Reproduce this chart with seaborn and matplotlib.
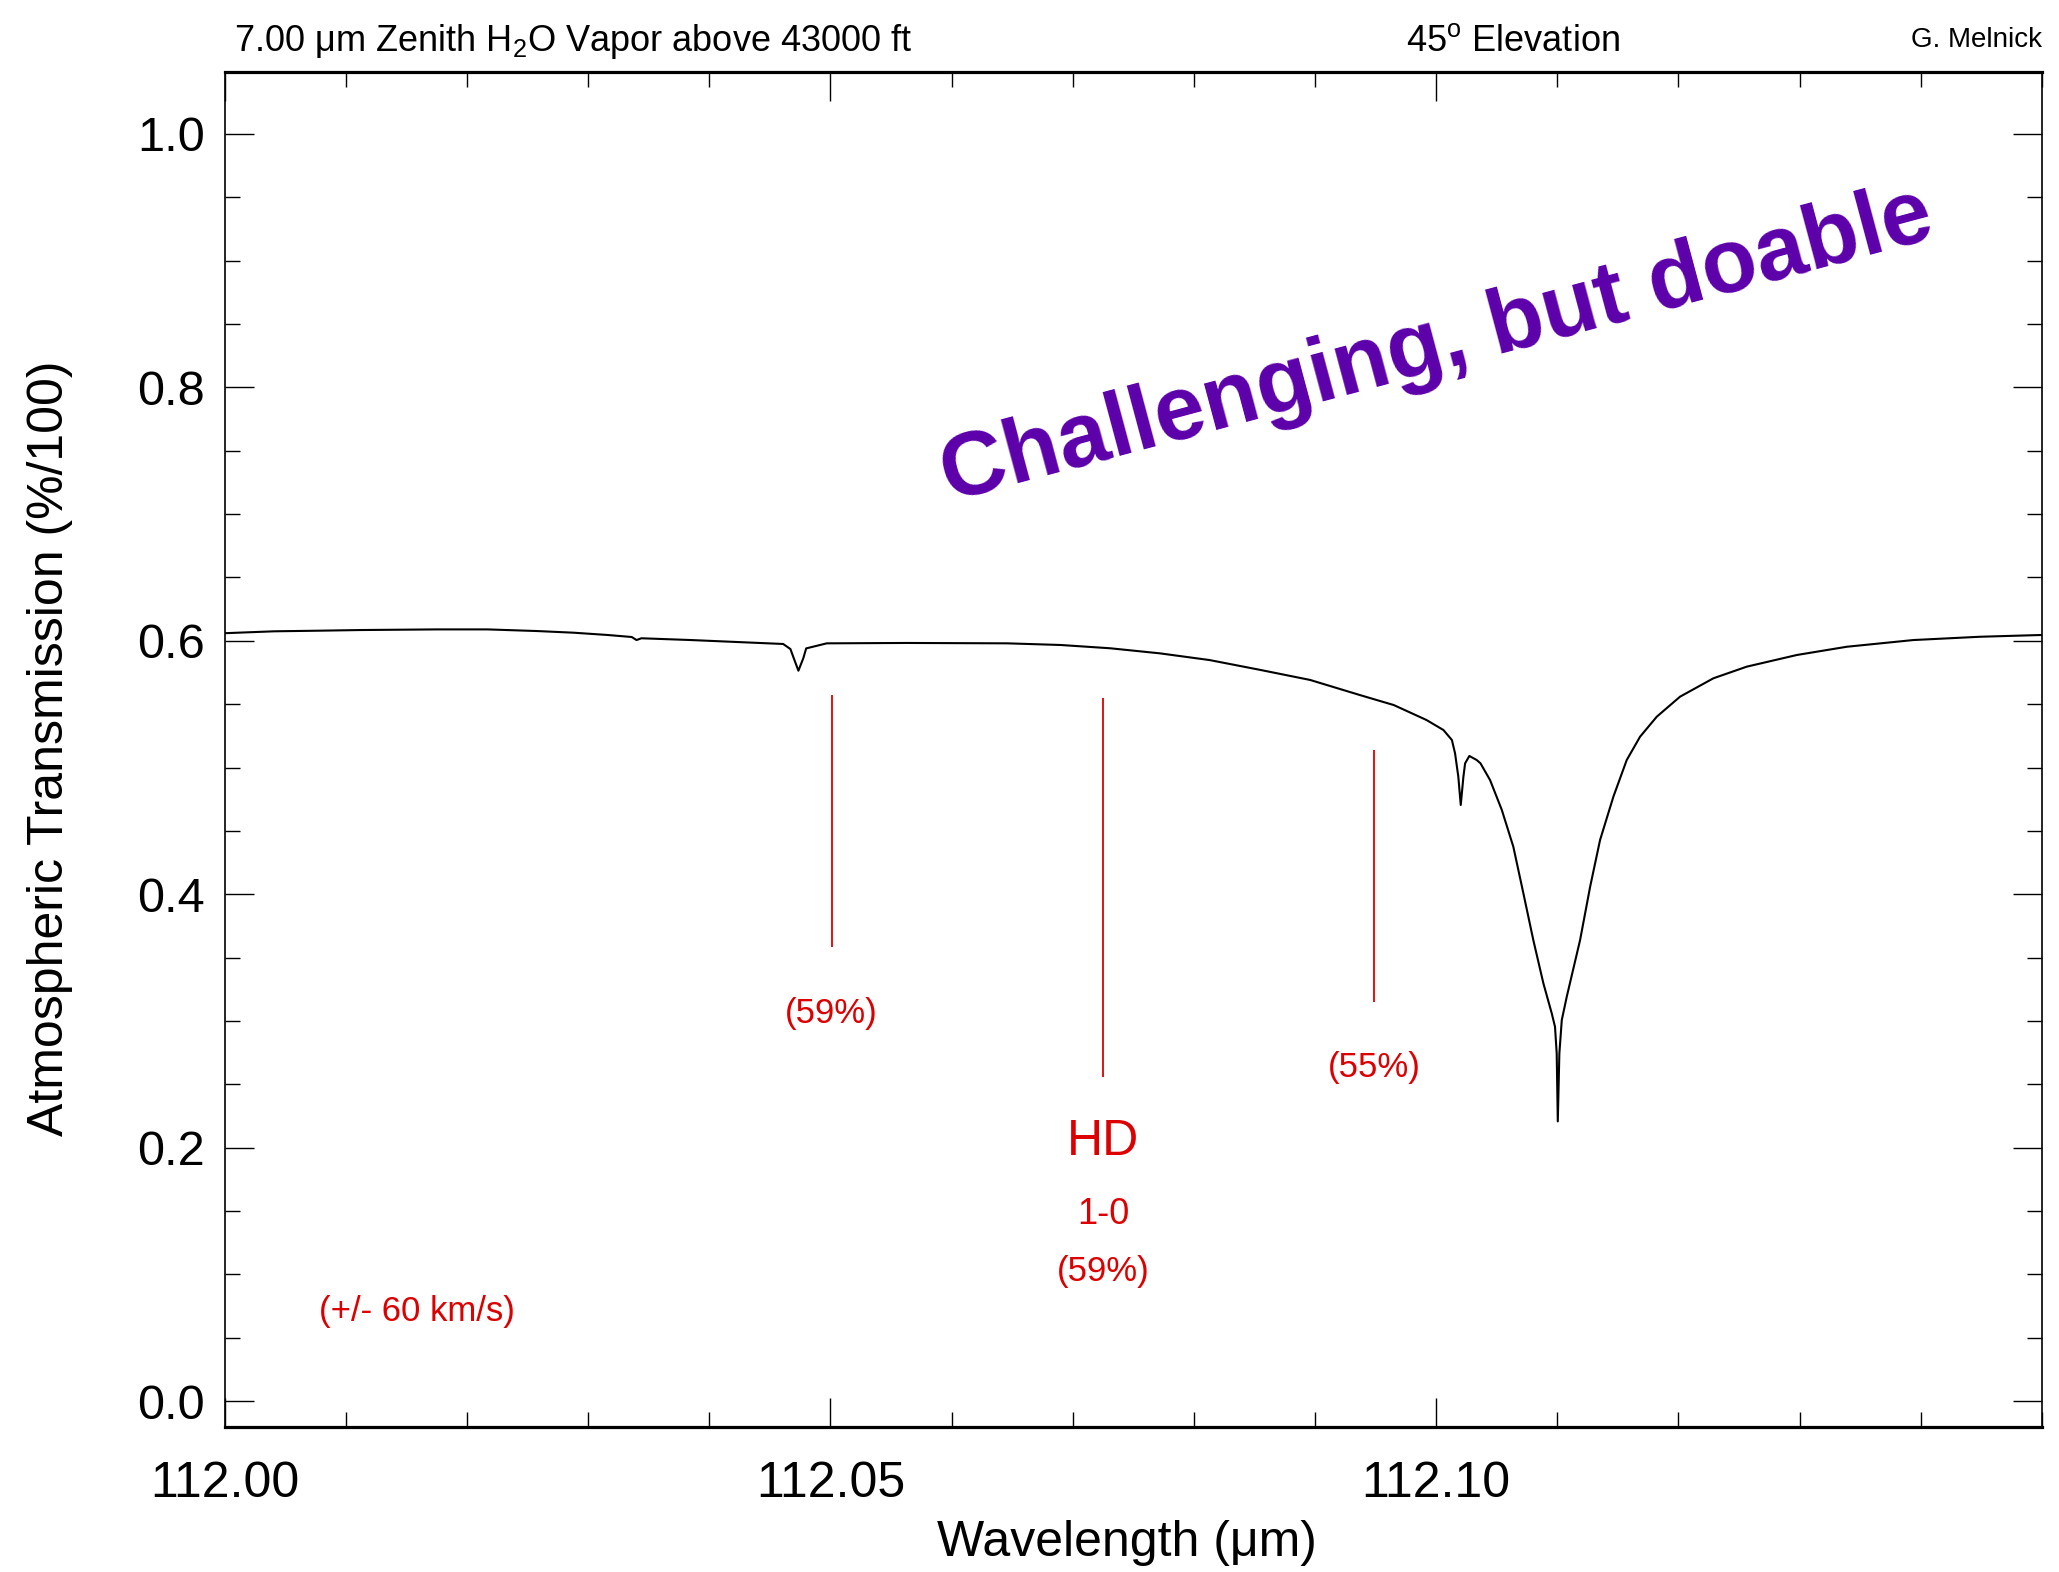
import matplotlib
matplotlib.use("Agg")
import matplotlib.pyplot as plt
from matplotlib.ticker import MultipleLocator, FixedLocator, FormatStrFormatter
import seaborn as sns
import pandas as pd

# Atmospheric transmission spectrum around the HD 1-0 line
wavelength = [
    112.0000, 112.0041, 112.0079, 112.0112, 112.0175, 112.0217, 112.0258,
    112.0288, 112.0316, 112.0336, 112.0340, 112.0344, 112.0385, 112.0429,
    112.0461, 112.0467, 112.04694, 112.04736, 112.04777, 112.0480, 112.0497,
    112.0563, 112.0646, 112.0690, 112.0731, 112.0772, 112.0813, 112.0855,
    112.0896, 112.0937, 112.0965, 112.0992, 112.1006, 112.1013, 112.10156,
    112.10183, 112.10203, 112.10225, 112.10239, 112.10274, 112.10335,
    112.10366, 112.10445, 112.10542, 112.10637, 112.10720, 112.10802,
    112.10885, 112.10954, 112.10981, 112.10995, 112.11004, 112.11017,
    112.11037, 112.11078, 112.11188, 112.11271, 112.11353, 112.11463,
    112.11573, 112.11683, 112.11821, 112.12013, 112.12288, 112.12564,
    112.12977, 112.13389, 112.13939, 112.14489, 112.15000,
]
transmission = [
    0.6060, 0.6075, 0.6080, 0.6085, 0.6090, 0.6090, 0.6077,
    0.6064, 0.6046, 0.6030, 0.6006, 0.6020, 0.6006, 0.5988,
    0.5975, 0.5935, 0.5872, 0.5764, 0.5864, 0.5940, 0.5980,
    0.5983, 0.5980, 0.5967, 0.5941, 0.5901, 0.5848, 0.5770,
    0.5691, 0.5572, 0.5493, 0.5375, 0.5296, 0.5217, 0.5112,
    0.4927, 0.4704, 0.4927, 0.5033, 0.5091, 0.5059,
    0.5033, 0.4901, 0.4665, 0.4375, 0.4007, 0.3638,
    0.3297, 0.3060, 0.2954, 0.2744, 0.2207, 0.2744,
    0.3007, 0.3191, 0.3638, 0.4059, 0.4428, 0.4770,
    0.5059, 0.5243, 0.5401, 0.5559, 0.5704, 0.5796,
    0.5888, 0.5953, 0.6006, 0.6032, 0.6046,
]

# HD line centre and the +/- 60 km/s window
marker_wavelength = [112.0501, 112.0725, 112.0949]
marker_top = [0.557, 0.555, 0.514]
marker_bottom = [0.358, 0.256, 0.315]
marker_labels = ["(59%)", "(59%)", "(55%)"]
marker_label_y = [0.3055, 0.1026, 0.2629]

x_tick_values = [112.00, 112.05, 112.10]

spectrum = pd.DataFrame({"wavelength": wavelength, "transmission": transmission})

sns.set_theme(style="ticks")
plt.rcParams["font.family"] = ["Liberation Sans", "DejaVu Sans"]
plt.rcParams["mathtext.fontset"] = "custom"
plt.rcParams["mathtext.rm"] = "Liberation Sans"
plt.rcParams["mathtext.it"] = "Liberation Sans:italic"
plt.rcParams["mathtext.bf"] = "Liberation Sans:bold"
for key in ("text.color", "axes.labelcolor", "xtick.color", "ytick.color",
            "axes.edgecolor"):
    plt.rcParams[key] = "black"

RED = "#dd0000"
PURPLE = "#5c00aa"

fig = plt.figure(figsize=(20.59, 15.72), dpi=100)
ax = fig.add_axes([0.1091, 0.0924, 0.9917 - 0.1091, 0.9545 - 0.0924])

sns.lineplot(data=spectrum, x="wavelength", y="transmission", sort=False,
             estimator=None, color="black", linewidth=1.5, ax=ax)

ax.set_xlim(112.00, 112.15)
ax.set_ylim(-0.0203, 1.0493)

# velocity window markers
ax.vlines(marker_wavelength, marker_bottom, marker_top, colors=RED, linewidth=1.3)
for xw, yl, lab in zip(marker_wavelength, marker_label_y, marker_labels):
    ax.text(xw, yl, lab, color=RED, fontsize=25, ha="center", va="center")
ax.text(marker_wavelength[1], 0.2047, "HD", color=RED, fontsize=36,
        ha="center", va="center")
ax.text(marker_wavelength[1], 0.1473, "1-0", color=RED, fontsize=26,
        ha="center", va="center")
ax.text(112.0159, 0.0704, "(+/- 60 km/s)", color=RED, fontsize=25,
        ha="center", va="center")

ax.text(112.0598, 0.7096, "Challenging, but doable", color=PURPLE,
        fontsize=65, fontweight="bold", rotation=15, rotation_mode="anchor",
        ha="left", va="baseline")

# axes styling
ax.xaxis.set_major_locator(FixedLocator(x_tick_values))
ax.xaxis.set_minor_locator(MultipleLocator(0.01))
ax.yaxis.set_major_locator(MultipleLocator(0.2))
ax.yaxis.set_minor_locator(MultipleLocator(0.05))
ax.xaxis.set_major_formatter(FormatStrFormatter("%.2f"))
ax.yaxis.set_major_formatter(FormatStrFormatter("%.1f"))
ax.tick_params(which="both", direction="in", top=True, right=True,
               color="black", width=1.0)
ax.tick_params(which="major", length=21)
ax.tick_params(which="minor", length=11)
ax.tick_params(axis="x", which="major", labelsize=36, pad=25)
ax.tick_params(axis="y", which="major", labelsize=35, pad=14)

for side in ("top", "bottom"):
    ax.spines[side].set_linewidth(2.3)
for side in ("left", "right"):
    ax.spines[side].set_linewidth(1.2)
for sp in ax.spines.values():
    sp.set_color("black")

ax.set_xlabel("Wavelength (\u03bcm)", fontsize=36)
ax.set_ylabel("Atmospheric Transmission (%/100)", fontsize=36)
ax.xaxis.set_label_coords(0.4966, -0.0858)
ax.xaxis.label.set_va("center")
ax.yaxis.set_label_coords(-0.0961, 0.5009)
ax.yaxis.label.set_va("center")

# header line
fig.text(234 / 2059, 1 - 50.7 / 1572,
         "7.00 \u03bcm Zenith H$_{2}$O Vapor above 43000 ft",
         fontsize=26, ha="left", va="baseline")
fig.text(1513 / 2059, 1 - 50.7 / 1572, "45$^{\\mathrm{o}}$ Elevation",
         fontsize=26, ha="center", va="baseline")
fig.text(2042 / 2059, 1 - 47 / 1572, "G. Melnick",
         fontsize=20, ha="right", va="baseline")

fig.savefig("out.png", dpi=100)
